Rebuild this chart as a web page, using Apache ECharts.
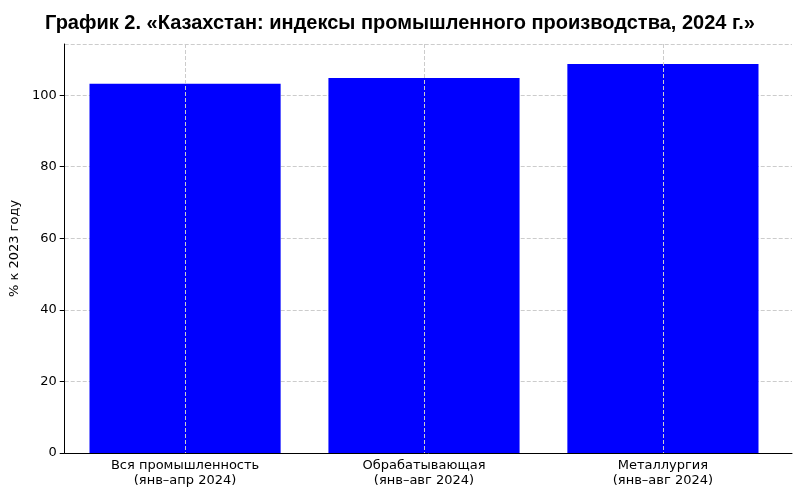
<!DOCTYPE html>
<html><head><meta charset="utf-8">
<script src="https://cdn.jsdelivr.net/npm/echarts@6/dist/echarts.min.js"></script>
<style>html,body{margin:0;padding:0;background:#fff}#c{width:800px;height:495px}</style>
</head><body><div id="c"></div>
<script>
const categories = ["Вся промышленность\n(янв–апр 2024)", "Обрабатывающая\n(янв–авг 2024)", "Металлургия\n(янв–авг 2024)"];
const values = [103.2, 104.8, 108.7];
const yMax = 114.3;
const chart = echarts.init(document.getElementById('c'));
const font = 'DejaVu Sans';
const dashed = {color:'#ccc',type:'dashed'};
chart.setOption({
  animation:false,
  title:{text:"График 2. «Казахстан: индексы промышленного производства, 2024 г.»",left:'center',top:8,
    textStyle:{fontFamily:'Liberation Sans',fontWeight:'bold',fontSize:20,color:'#000'}},
  grid:[{left:65.6,right:17.6,top:44,bottom:42},{left:56,right:8,top:44,bottom:42}],
  xAxis:[{type:'category',data:categories,gridIndex:0,
    axisLine:{show:false},axisTick:{alignWithLabel:true,lineStyle:{color:'#000'}},
    axisLabel:{color:'#000',fontFamily:font,fontSize:13,lineHeight:15,margin:5},
    splitLine:{show:false}},
    {type:'value',gridIndex:1,min:0,max:1,axisLine:{show:true,onZero:false,lineStyle:{color:'#000'}},
     axisTick:{show:false},axisLabel:{show:false},splitLine:{show:false}}],
  yAxis:[{type:'value',gridIndex:0,min:0,max:yMax,show:false,splitLine:{show:false}},
    {type:'value',gridIndex:1,min:0,max:yMax,interval:20,
    name:'% к 2023 году',nameLocation:'middle',nameGap:38,nameTextStyle:{color:'#000',fontFamily:font,fontSize:13},
    axisLine:{show:true,lineStyle:{color:'#000'}},axisTick:{show:true,lineStyle:{color:'#000'}},
    axisLabel:{color:'#000',fontFamily:font,fontSize:13,showMaxLabel:false},
    splitLine:{lineStyle:dashed}}],
  series:[{type:'bar',data:values,barWidth:'80%',xAxisIndex:0,yAxisIndex:0,itemStyle:{color:'#0000ff'},z:1,
    markLine:{silent:true,symbol:'none',label:{show:false},lineStyle:dashed,z:3,
      data:categories.map((c,i)=>[{xAxis:i,y:44},{xAxis:i,y:453}])}}]
});
</script></body></html>
